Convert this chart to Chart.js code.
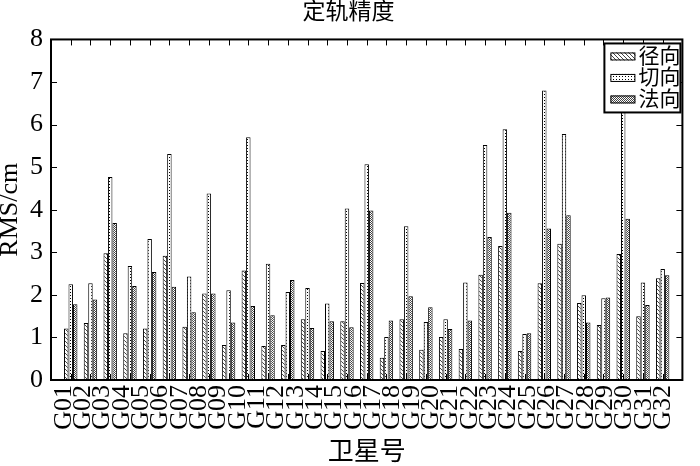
<!DOCTYPE html>
<html lang="zh">
<head>
<meta charset="UTF-8">
<title>定轨精度</title>
<style>
  body { margin: 0; background: #fff; }
  #wrap { width: 700px; height: 466px; }
</style>
<script src="https://cdn.jsdelivr.net/npm/chart.js"></script>
</head>
<body>
<div id="wrap"><canvas id="rmsChart" width="700" height="466"></canvas></div>
<script>
// tick labels under the x axis (32 labels, the figure only has 31 bar groups)
const satellites = ['G01','G02','G03','G04','G05','G06','G07','G08','G09','G10',
  'G11','G12','G13','G14','G15','G16','G17','G18','G19','G20',
  'G21','G22','G23','G24','G25','G26','G27','G28','G29','G30','G31','G32'];
const seriesNames = ['径向', '切向', '法向'];

// RMS values in cm, one per bar group
const radial = [1.21,1.34,2.98,1.10,1.21,2.92,1.25,2.03,0.82,2.57,
  0.80,0.82,1.43,0.68,1.38,2.28,0.52,1.43,0.71,1.01,
  0.73,2.47,3.15,0.68,2.27,3.20,1.81,1.29,2.96,1.50,2.39];
const along = [2.25,2.27,4.77,2.68,3.31,5.31,2.43,4.38,2.11,5.70,
  2.73,2.07,2.16,1.80,4.03,5.07,1.01,3.61,1.36,1.43,
  2.29,5.52,5.89,1.08,6.80,5.78,1.99,1.92,6.50,2.29,2.61];
const normal = [1.78,1.89,3.69,2.21,2.54,2.19,1.59,2.03,1.35,1.74,
  1.52,2.35,1.22,1.38,1.24,3.98,1.40,1.97,1.71,1.20,
  1.40,3.36,3.93,1.10,3.56,3.87,1.35,1.94,3.79,1.76,2.46];
const yTicks = [0,1,2,3,4,5,6,7,8];

const SERIF = "'Liberation Serif', 'Times New Roman', 'Noto Sans CJK SC', serif";
const ctx = document.getElementById('rmsChart').getContext('2d');

// small fill patterns like the printed figure
function makePattern(w, h, dots, ink) {
  const c = document.createElement('canvas');
  c.width = w; c.height = h;
  const g = c.getContext('2d');
  g.fillStyle = '#fff';
  g.fillRect(0, 0, w, h);
  g.fillStyle = ink;
  dots.forEach(d => g.fillRect(d[0], d[1], 1, 1));
  return ctx.createPattern(c, 'repeat');
}
const hatch = makePattern(4, 4, [[0,0],[1,1],[2,2],[3,3]], '#444');
const dotted = makePattern(3, 3, [[1,1]], '#000');
const cross = makePattern(2, 2, [[0,0],[1,1]], '#444');
const fills = [hatch, dotted, cross];

const toPoints = arr => arr.map((v, i) => ({x: i + 1, y: v}));

// box frame with inward ticks + legend in the upper right corner
const framePlugin = {
  id: 'frame',
  afterDraw(chart) {
    const {ctx: g, chartArea: a, scales} = chart;
    g.save();
    g.strokeStyle = '#000';
    g.lineWidth = 1;
    const tl = 6;
    g.beginPath();
    scales.y.ticks.forEach(t => {
      const py = Math.round(scales.y.getPixelForValue(t.value)) + 0.5;
      g.moveTo(a.left, py); g.lineTo(a.left + tl, py);
      g.moveTo(a.right, py); g.lineTo(a.right - tl, py);
    });
    scales.x.ticks.forEach(t => {
      const px = Math.round(scales.x.getPixelForValue(t.value)) + 0.5;
      g.moveTo(px, a.top); g.lineTo(px, a.top + tl);
      g.moveTo(px, a.bottom); g.lineTo(px, a.bottom - tl);
    });
    g.stroke();
    g.lineWidth = 2;
    g.strokeRect(a.left, a.top, a.right - a.left, a.bottom - a.top);

    // legend
    const lw = 76, lh = 69;
    const lx = a.right - lw - 2, ly = a.top + 4;
    g.fillStyle = '#fff';
    g.fillRect(lx, ly, lw, lh);
    g.lineWidth = 2;
    g.strokeRect(lx, ly, lw, lh);
    g.font = '21px ' + SERIF;
    g.textBaseline = 'middle';
    g.textAlign = 'left';
    chart.data.datasets.forEach((ds, i) => {
      const cy = ly + 13 + i * 21.5;
      g.fillStyle = ds.backgroundColor;
      g.fillRect(lx + 6, cy - 4, 25, 8);
      g.lineWidth = 1;
      g.strokeRect(lx + 6.5, cy - 3.5, 24, 7);
      g.fillStyle = '#000';
      g.fillText(ds.label, lx + 34, cy + 1);
    });
    g.restore();
  }
};

new Chart(ctx, {
  type: 'bar',
  data: {
    datasets: [radial, along, normal].map((arr, i) => ({
      label: seriesNames[i],
      data: toPoints(arr),
      backgroundColor: fills[i],
      borderColor: '#000',
      borderWidth: 1,
      borderSkipped: 'start',
      categoryPercentage: 0.68,
      barPercentage: 1.0,
      xAxisID: 'x'
    }))
  },
  options: {
    responsive: false,
    animation: false,
    layout: { padding: { top: 0, right: 3, left: 0, bottom: 0 } },
    plugins: {
      legend: { display: false },
      tooltip: { enabled: false },
      title: {
        display: true,
        text: '定轨精度',
        color: '#000',
        font: { family: SERIF, size: 23, weight: 'normal', lineHeight: 1.15 },
        padding: { top: 0, bottom: 13 }
      }
    },
    scales: {
      x: {
        type: 'linear',
        display: false,
        min: 0,
        max: 32,
        offset: false,
        afterBuildTicks: s => { s.ticks = radial.map((v, i) => ({value: i + 1})); }
      },
      xl: {
        type: 'linear',
        position: 'bottom',
        min: 0,
        max: 32,
        offset: false,
        grid: { display: false, drawTicks: false },
        border: { display: false },
        afterBuildTicks: s => { s.ticks = satellites.map((n, i) => ({value: 0.65 + i * 0.98})); },
        afterFit: s => { s.height = 86; },
        ticks: {
          autoSkip: false,
          minRotation: 90,
          maxRotation: 90,
          padding: 5,
          color: '#000',
          font: { family: SERIF, size: 26 },
          callback: (v, i) => satellites[i]
        },
        title: {
          display: true,
          text: '卫星号',
          color: '#000',
          padding: 0,
          font: { family: SERIF, size: 26, lineHeight: 1.0 }
        }
      },
      y: {
        min: 0,
        max: 8,
        grid: { display: false, drawTicks: false },
        border: { display: false },
        afterBuildTicks: s => { s.ticks = yTicks.map(v => ({value: v})); },
        afterFit: s => { s.width = 51; },
        ticks: {
          padding: 8,
          color: '#000',
          font: { family: SERIF, size: 26 }
        },
        title: {
          display: true,
          text: 'RMS/cm',
          color: '#000',
          padding: 0,
          font: { family: SERIF, size: 26, lineHeight: 0.8 }
        }
      }
    }
  },
  plugins: [framePlugin]
});
</script>
</body>
</html>
